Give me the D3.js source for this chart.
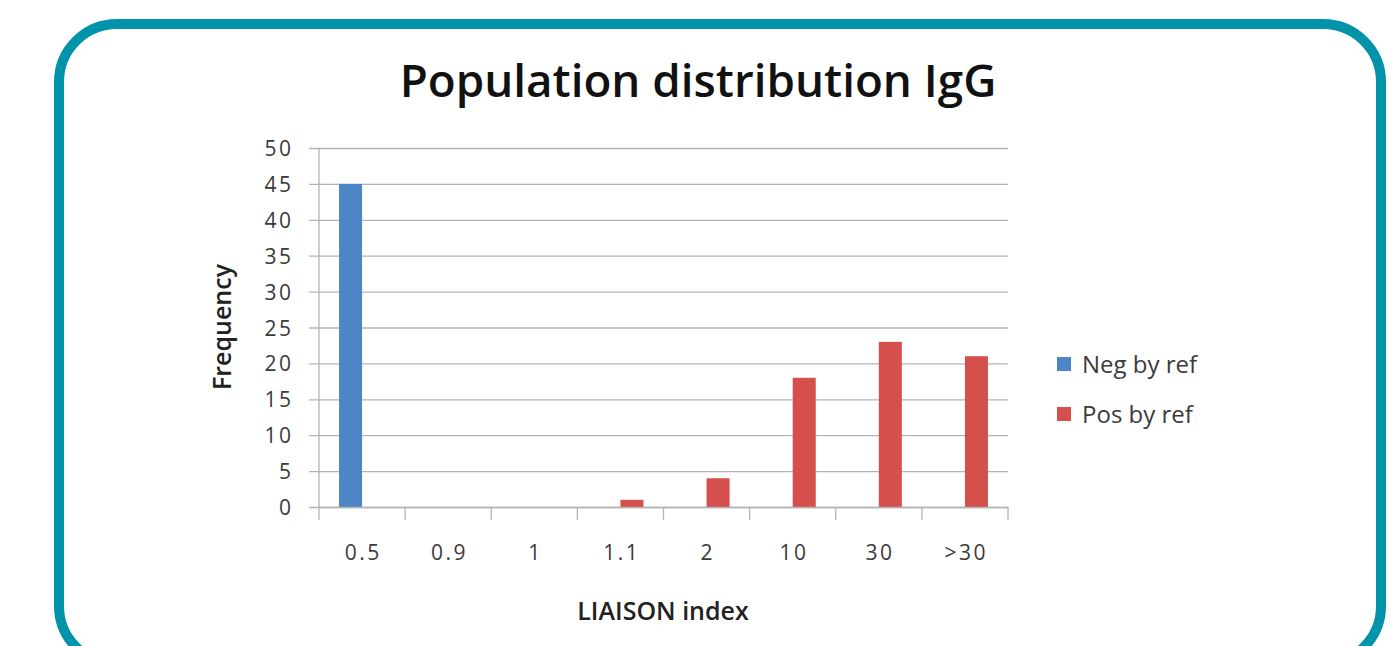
<!DOCTYPE html>
<html>
<head>
<meta charset="utf-8">
<script src="https://cdn.jsdelivr.net/npm/d3@7"></script>
<style>
  body { margin: 0; background: #fff; }
  svg { display: block; }
</style>
</head>
<body>
<div id="chart"></div>
<script>
var categories = ["0.5", "0.9", "1", "1.1", "2", "10", "30", ">30"];
var seriesNames = ["Neg by ref", "Pos by ref"];
var negValues = [45, 0, 0, 0, 0, 0, 0, 0];
var posValues = [0, 0, 0, 1, 4, 18, 23, 21];
var yTicks = [0, 5, 10, 15, 20, 25, 30, 35, 40, 45, 50];
var colors = ["#4d86c6", "#d5504c"];

var width = 1397, height = 646;
var plotLeft = 319, plotRight = 1008, plotTop = 148, plotBottom = 507;

var svg = d3.select("#chart").append("svg")
  .attr("width", width)
  .attr("height", height);

// teal frame
svg.append("rect")
  .attr("x", 59).attr("y", 24)
  .attr("width", 1322).attr("height", 640)
  .attr("rx", 58).attr("ry", 58)
  .attr("fill", "#fff")
  .attr("stroke", "#0093aa")
  .attr("stroke-width", 10);

var data = categories.map(function(c, i){
  return {cat: c, values: [negValues[i], posValues[i]]};
});

var xScale = d3.scaleBand()
  .domain(categories)
  .range([plotLeft, plotRight])
  .paddingInner(0).paddingOuter(0);

var xInner = d3.scaleBand()
  .domain(seriesNames)
  .range([0, xScale.bandwidth()])
  .paddingInner(0).paddingOuter(0.87);

var yScale = d3.scaleLinear()
  .domain([0, 50])
  .range([plotBottom, plotTop]);

// gridlines + y labels
var yAxis = svg.append("g")
  .attr("transform", "translate(" + plotLeft + ",0)")
  .call(d3.axisLeft(yScale).tickValues(yTicks).tickSize(-(plotRight - plotLeft)).tickSizeOuter(0));
yAxis.select(".domain").remove();
yAxis.selectAll(".tick line")
  .attr("stroke", "#b4b4b4")
  .attr("x1", -10)
  .attr("stroke-width", 1.3);
yAxis.selectAll(".tick text")
  .attr("fill", "#3a3a3a")
  .attr("x", -25.5)
  .attr("dy", "0.36em")
  .style("letter-spacing", "2.5px")
  .style("font-family", "'Open Sans', sans-serif")
  .style("font-size", "21px");

// y axis line
svg.append("line")
  .attr("x1", plotLeft).attr("x2", plotLeft)
  .attr("y1", plotTop).attr("y2", plotBottom)
  .attr("stroke", "#b4b4b4").attr("stroke-width", 1.3);

// bars
var groups = svg.append("g").selectAll("g").data(data).enter().append("g")
  .attr("transform", function(d){ return "translate(" + xScale(d.cat) + ",0)"; });

groups.selectAll("rect")
  .data(function(d){ return d.values.map(function(v, j){ return {name: seriesNames[j], v: v, j: j}; }); })
  .enter().append("rect")
  .filter(function(d){ return d.v > 0; })
  .attr("x", function(d){ return xInner(d.name); })
  .attr("y", function(d){ return yScale(d.v); })
  .attr("width", xInner.bandwidth())
  .attr("height", function(d){ return yScale(0) - yScale(d.v); })
  .attr("fill", function(d){ return colors[d.j]; });

// x axis
var xAxis = svg.append("g")
  .attr("transform", "translate(0," + plotBottom + ")")
  .call(d3.axisBottom(xScale).tickSize(0).tickPadding(38));
xAxis.select(".domain")
  .attr("stroke", "#b4b4b4").attr("stroke-width", 1.3);
xAxis.selectAll(".tick text")
  .attr("fill", "#3a3a3a")
  .attr("dx", "1.25px")
  .style("letter-spacing", "2.5px")
  .style("font-family", "'Open Sans', sans-serif")
  .style("font-size", "21px");

// boundary ticks between categories
var edges = categories.map(function(c){ return xScale(c); }).concat([plotRight]);
svg.append("g").selectAll("line").data(edges).enter().append("line")
  .attr("x1", function(d){ return d; }).attr("x2", function(d){ return d; })
  .attr("y1", plotBottom).attr("y2", plotBottom + 13)
  .attr("stroke", "#b4b4b4").attr("stroke-width", 1.3);

// title
var title = svg.append("text")
  .attr("x", 698).attr("y", 97)
  .attr("text-anchor", "middle")
  .attr("fill", "#111")
  .style("font-family", "'Open Sans', sans-serif")
  .style("font-weight", "600")
  .style("font-size", "44px")
  .text("Population distribution IgG");
var tw = title.node().getComputedTextLength();
title.style("font-size", (44 * 597 / tw) + "px");

// axis titles
svg.append("text")
  .attr("transform", "translate(231,327) rotate(-90)")
  .attr("text-anchor", "middle")
  .attr("fill", "#222")
  .style("font-family", "'Open Sans', sans-serif")
  .style("font-weight", "600")
  .style("font-size", "25px")
  .text("Frequency");

svg.append("text")
  .attr("x", 663).attr("y", 620)
  .attr("text-anchor", "middle")
  .attr("fill", "#222")
  .style("font-family", "'Open Sans', sans-serif")
  .style("font-weight", "600")
  .style("font-size", "25px")
  .text("LIAISON index");

// legend
var legend = svg.append("g").selectAll("g").data(seriesNames).enter().append("g")
  .attr("transform", function(d, i){ return "translate(1057," + (357 + i * 50) + ")"; });
legend.append("rect")
  .attr("width", 14).attr("height", 14)
  .attr("fill", function(d, i){ return colors[i]; });
legend.append("text")
  .attr("x", 25).attr("y", 16)
  .attr("fill", "#3a3a3a")
  .style("font-family", "'Open Sans', sans-serif")
  .style("font-size", "24px")
  .text(function(d){ return d; });
</script>
</body>
</html>
